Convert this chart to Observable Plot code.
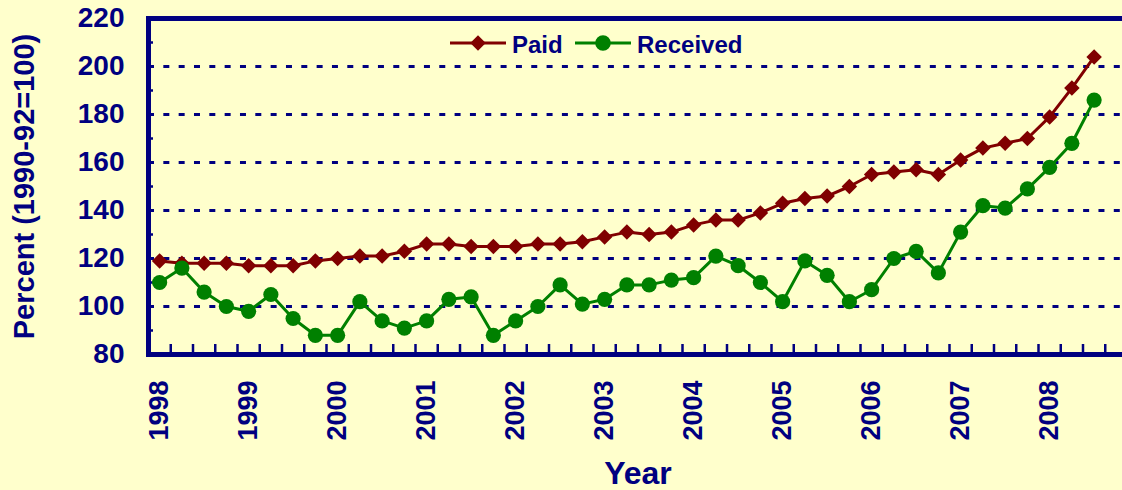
<!DOCTYPE html>
<html>
<head>
<meta charset="utf-8">
<script src="https://cdn.jsdelivr.net/npm/d3@7"></script>
<script src="https://cdn.jsdelivr.net/npm/@observablehq/plot@0.6"></script>
<style>
  html, body { margin: 0; padding: 0; background: #FFFFCC; overflow: hidden; }
  #wrap { position: relative; width: 1122px; height: 490px; overflow: hidden;
          font-family: "Liberation Sans", Arial, sans-serif; }
  #legend { position: absolute; left: 0; top: 0; }
</style>
</head>
<body>
<div id="wrap"></div>
<script>
// ---- data ----
const years = [1998, 1999, 2000, 2001, 2002, 2003, 2004, 2005, 2006, 2007, 2008];
const quarterLabels = ["Q1", "Q2", "Q3", "Q4"];
const seriesNames = ["Paid", "Received"];
const seriesColors = ["#800000", "#008000"];
const paid = [119, 118, 118, 118, 117, 117, 117, 119, 120, 121, 121, 123, 126, 126, 125, 125, 125, 126,
              126, 127, 129, 131, 130, 131, 134, 136, 136, 139, 143, 145, 146, 150, 155, 156, 157, 155,
              161, 166, 168, 170, 179, 191, 204];
const received = [110, 116, 106, 100, 98, 105, 95, 88, 88, 102, 94, 91, 94, 103, 104, 88, 94, 100,
                  109, 101, 103, 109, 109, 111, 112, 121, 117, 110, 102, 119, 113, 102, 107, 120, 123, 114,
                  131, 142, 141, 149, 158, 168, 186];
const yTicks = [80, 100, 120, 140, 160, 180, 200, 220];
const yMinorTicks = [90, 110, 130, 150, 170, 190, 210];
const yTitle = "Percent (1990-92=100)";
const xTitle = "Year";

// ---- derived tables ----
const navy = "#000080";
const periods = years.flatMap(y => quarterLabels.map((q, i) => ({label: `${y} ${q}`, t: y + i / 4})));
const rowsFor = (name, values) => values.map((v, i) => ({series: name, t: periods[i].t, value: v}));
const paidRows = rowsFor("Paid", paid);
const receivedRows = rowsFor("Received", received);
const boundaries = periods.map(p => p.t - 0.125).concat([periods[periods.length - 1].t + 0.125]);

const chart = Plot.plot({
  width: 1137,
  height: 490,
  marginLeft: 148,
  marginRight: 10,
  marginTop: 18,
  marginBottom: 136,
  style: {background: "#FFFFCC", color: navy, maxWidth: "none", overflow: "visible",
          fontFamily: "'Liberation Sans', Arial, sans-serif"},
  x: {type: "linear", domain: [boundaries[0], boundaries[boundaries.length - 1]]},
  y: {domain: [80, 220]},
  color: {domain: seriesNames, range: seriesColors},
  marks: [
    Plot.gridY(yTicks.filter(v => v > 80 && v < 220),
      {stroke: navy, strokeOpacity: 1, strokeWidth: 3, strokeDasharray: "6,9.33"}),
    Plot.axisY(yTicks, {tickSize: 0, tickPadding: 24, fontSize: 28, fontWeight: "bold", label: null}),
    Plot.axisY(yMinorTicks, {tickSize: -5, strokeWidth: 2.5, tickFormat: () => "", label: null}),
    Plot.axisX(boundaries, {tickSize: -10, strokeWidth: 2.5, tickFormat: () => "", label: null}),
    Plot.axisX(years, {tickSize: 0, tickPadding: 26, tickRotate: -90, fontSize: 27, fontWeight: "bold",
      tickFormat: d => String(d), label: null}),
    Plot.frame({stroke: navy, strokeWidth: 5}),
    Plot.line(paidRows, {x: "t", y: "value", stroke: "series", strokeWidth: 3}),
    Plot.dot(paidRows, {x: "t", y: "value", symbol: "diamond2", r: 7, fill: "series", stroke: "none"}),
    Plot.line(receivedRows, {x: "t", y: "value", stroke: "series", strokeWidth: 3}),
    Plot.dot(receivedRows, {x: "t", y: "value", r: 7.6, fill: "series", stroke: "none"}),
    Plot.text([yTitle], {text: d => d, frameAnchor: "left", textAnchor: "middle", rotate: -90, dx: -115,
      lineAnchor: "bottom", fontSize: 29, fontWeight: "bold", fill: navy}),
    Plot.text([xTitle], {text: d => d, frameAnchor: "bottom", textAnchor: "middle", dy: 129, lineAnchor: "bottom",
      fontSize: 32, fontWeight: "bold", fill: navy})
  ]
});
document.getElementById("wrap").appendChild(chart);

// ---- legend (overlay) ----
const legend = d3.select("#wrap").append("svg").attr("id", "legend")
  .attr("width", 1122).attr("height", 70);
const legendItems = [
  {name: seriesNames[0], color: seriesColors[0], symbol: d3.symbolDiamond2, size: 7 * 7 * Math.PI, x0: 450},
  {name: seriesNames[1], color: seriesColors[1], symbol: d3.symbolCircle, size: 7.8 * 7.8 * Math.PI, x0: 575}
];
const ly = 43;
legendItems.forEach(it => {
  const g = legend.append("g");
  g.append("line").attr("x1", it.x0).attr("x2", it.x0 + 56).attr("y1", ly).attr("y2", ly)
    .attr("stroke", it.color).attr("stroke-width", 3);
  g.append("path").attr("d", d3.symbol(it.symbol, it.size)()).attr("transform", `translate(${it.x0 + 28},${ly})`)
    .attr("fill", it.color);
  g.append("text").attr("x", it.x0 + 62).attr("y", ly + 10).text(it.name)
    .attr("fill", navy).attr("font-size", 24).attr("font-weight", "bold")
    .attr("font-family", "'Liberation Sans', Arial, sans-serif");
});
</script>
</body>
</html>
